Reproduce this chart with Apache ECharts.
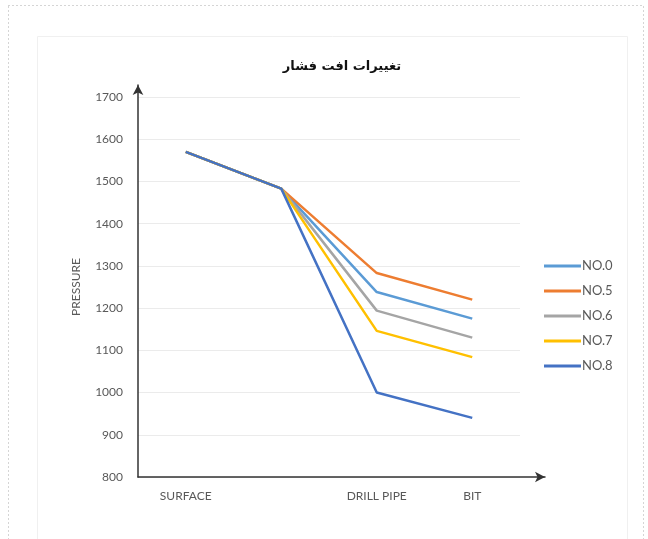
<!DOCTYPE html>
<html><head><meta charset="utf-8">
<script src="https://cdn.jsdelivr.net/npm/echarts@6/dist/echarts.min.js"></script>
<style>html,body{margin:0;padding:0;background:#fff}#c{width:648px;height:539px}</style>
</head><body><div id="c"></div>
<script>
var titleText = 'تغییرات افت فشار';
var categories = ['SURFACE', '', 'DRILL PIPE', 'BIT'];
var seriesNames = ['NO.0', 'NO.5', 'NO.6', 'NO.7', 'NO.8'];
var no0 = [1570, 1483, 1238, 1175];
var no5 = [1570, 1483, 1283, 1220];
var no6 = [1570, 1483, 1194, 1130];
var no7 = [1570, 1483, 1146, 1084];
var no8 = [1570, 1483, 1000, 940];
var yTicks = [800, 900, 1000, 1100, 1200, 1300, 1400, 1500, 1600, 1700];
var colors = ['#5B9BD5', '#ED7D31', '#A5A5A5', '#FFC000', '#4472C4'];
var allData = [no0, no5, no6, no7, no8];

var chart = echarts.init(document.getElementById('c'), null, {renderer: 'canvas'});
var series = seriesNames.map(function (n, i) {
  return {
    name: n, type: 'line', data: allData[i], xAxisIndex: 0, yAxisIndex: 0,
    symbol: 'none', lineStyle: {width: 2.5, color: colors[i]}, itemStyle: {color: colors[i]},
    animation: false, z: 2 + i
  };
});
chart.setOption({
  backgroundColor: '#fff',
  animation: false,
  color: colors,
  title: {
    text: titleText, left: 337, top: 55, textAlign: 'center',
    textStyle: {fontFamily: 'DejaVu Sans', fontSize: 13, fontWeight: 'bold', color: '#111'}
  },
  legend: {
    orient: 'vertical', left: 539, top: 254, itemGap: 11,
    itemWidth: 37, itemHeight: 3, icon: 'rect',
    textStyle: {color: '#595959', fontSize: 13, lineHeight: 14, fontFamily: 'Lato', padding: [0, 0, 0, -4]},
    data: seriesNames
  },
  grid: [
    {left: 138, right: 128, top: 97, bottom: 62},
    {left: 138, right: 103, top: 85, bottom: 62}
  ],
  xAxis: [
    {
      type: 'category', data: categories, gridIndex: 0, boundaryGap: true,
      axisLine: {show: false}, axisTick: {show: false},
      axisLabel: {color: '#595959', fontSize: 12, fontFamily: 'Lato', margin: 13, interval: 0}
    },
    {
      type: 'value', gridIndex: 1, min: 0, max: 1,
      axisLine: {show: true, lineStyle: {color: '#333', width: 1.5}, symbol: ['none', 'arrow'], symbolSize: [8, 10]},
      axisTick: {show: false}, axisLabel: {show: false}, splitLine: {show: false}
    }
  ],
  yAxis: [
    {
      type: 'value', gridIndex: 0, min: yTicks[0], max: yTicks[yTicks.length - 1], interval: 100,
      name: 'PRESSURE', nameLocation: 'middle', nameGap: 56, nameRotate: 90,
      nameTextStyle: {color: '#595959', fontSize: 12, fontFamily: 'Lato'},
      axisLine: {show: false}, axisTick: {show: false},
      axisLabel: {color: '#595959', fontSize: 12, fontFamily: 'Lato', margin: 15,
        formatter: function (v) { return String(v); }},
      splitLine: {show: true, lineStyle: {color: '#ebebeb', width: 1}}
    },
    {
      type: 'value', gridIndex: 1, min: 0, max: 1,
      axisLine: {show: true, lineStyle: {color: '#333', width: 1.5}, symbol: ['none', 'arrow'], symbolSize: [8, 10]},
      axisTick: {show: false}, axisLabel: {show: false}, splitLine: {show: false}
    }
  ],
  graphic: [
    {type: 'rect', shape: {x: 8.5, y: 5.5, width: 635, height: 560},
     style: {fill: 'none', stroke: '#aaa', lineWidth: 1, lineDash: [1, 3]}, silent: true, z: -10},
    {type: 'rect', shape: {x: 37.5, y: 36.5, width: 590, height: 520},
     style: {fill: 'none', stroke: '#f0f0f0', lineWidth: 1}, silent: true, z: -10}
  ],
  series: series
});
</script></body></html>
